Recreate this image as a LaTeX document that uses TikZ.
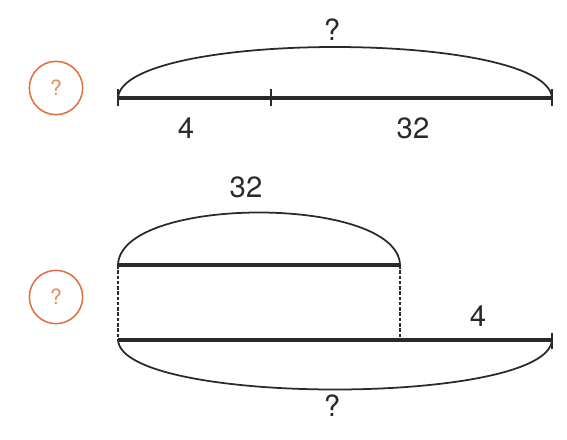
\documentclass[tikz,border=0pt]{standalone}
\usepackage{fontspec}
\setmainfont{TeX Gyre Heros}
\usepackage{tikz}
\usetikzlibrary{positioning}
\definecolor{qorange}{HTML}{E0703F}
\definecolor{inkgray}{HTML}{2A2A2A}

\begin{document}
\begin{tikzpicture}[x=0.03cm,y=-0.03cm,
			bar/.style={draw=inkgray,line width=2.6pt},
			brace/.style={draw=inkgray,line width=1.5pt},
			tick/.style={draw=inkgray,line width=1.5pt},
			guide/.style={draw=inkgray,line width=1.2pt,dash pattern=on 3pt off 1.5pt},
			lbl/.style={font=\fontsize{25}{29}\selectfont,text=inkgray,inner sep=1pt},
			qcirc/.style={circle,draw=qorange,line width=1.3pt,minimum size=1.6cm,text=qorange!80,font=\fontsize{18}{20}\selectfont}
			]
			\useasboundingbox (0,0) rectangle (567,439);
			% first model
			\node[qcirc] (q1) at (56,88) {?};
			\coordinate (a0) at (118,98);
			\coordinate (a1) at (271,98);
			\coordinate (a2) at (552,98);
			\draw[bar] (a0) -- (a2);
			\foreach \p in {a0,a1,a2}
			\draw[tick] ([yshift=-7]\p) -- ([yshift=8]\p);
			\draw[brace] (a0) .. controls (122,30) and (548,30) .. (a2);
			\node[lbl] (tot1) at (332,30) {?};
			\node[lbl] (n4a) at (186,128) {4};
			\node[lbl] (n32a) at (413,128) {32};
			% second model
			\node[qcirc] (q2) at (56,297) {?};
			\coordinate (b0) at (118,265);
			\coordinate (b1) at (400,265);
			\coordinate (c0) at (118,340);
			\coordinate (c1) at (400,340);
			\coordinate (c2) at (552,340);
			\draw[bar] (b0) -- (b1);
			\draw[bar] (c0) -- (c2);
			\draw[guide] (b0) -- (c0);
			\draw[guide] (b1) -- (c1);
			\draw[tick] ([yshift=-8]c2) -- ([yshift=6]c2);
			\draw[brace] (b0) .. controls (120,195) and (398,195) .. (b1);
			\draw[brace] (c0) .. controls (122,406) and (548,406) .. (c2);
			\node[lbl] (n32b) at (246,187) {32};
			\node[lbl] (n4b) at (478,316) {4};
			\node[lbl] (tot2) at (332,406) {?};
		\end{tikzpicture}
\end{document}
